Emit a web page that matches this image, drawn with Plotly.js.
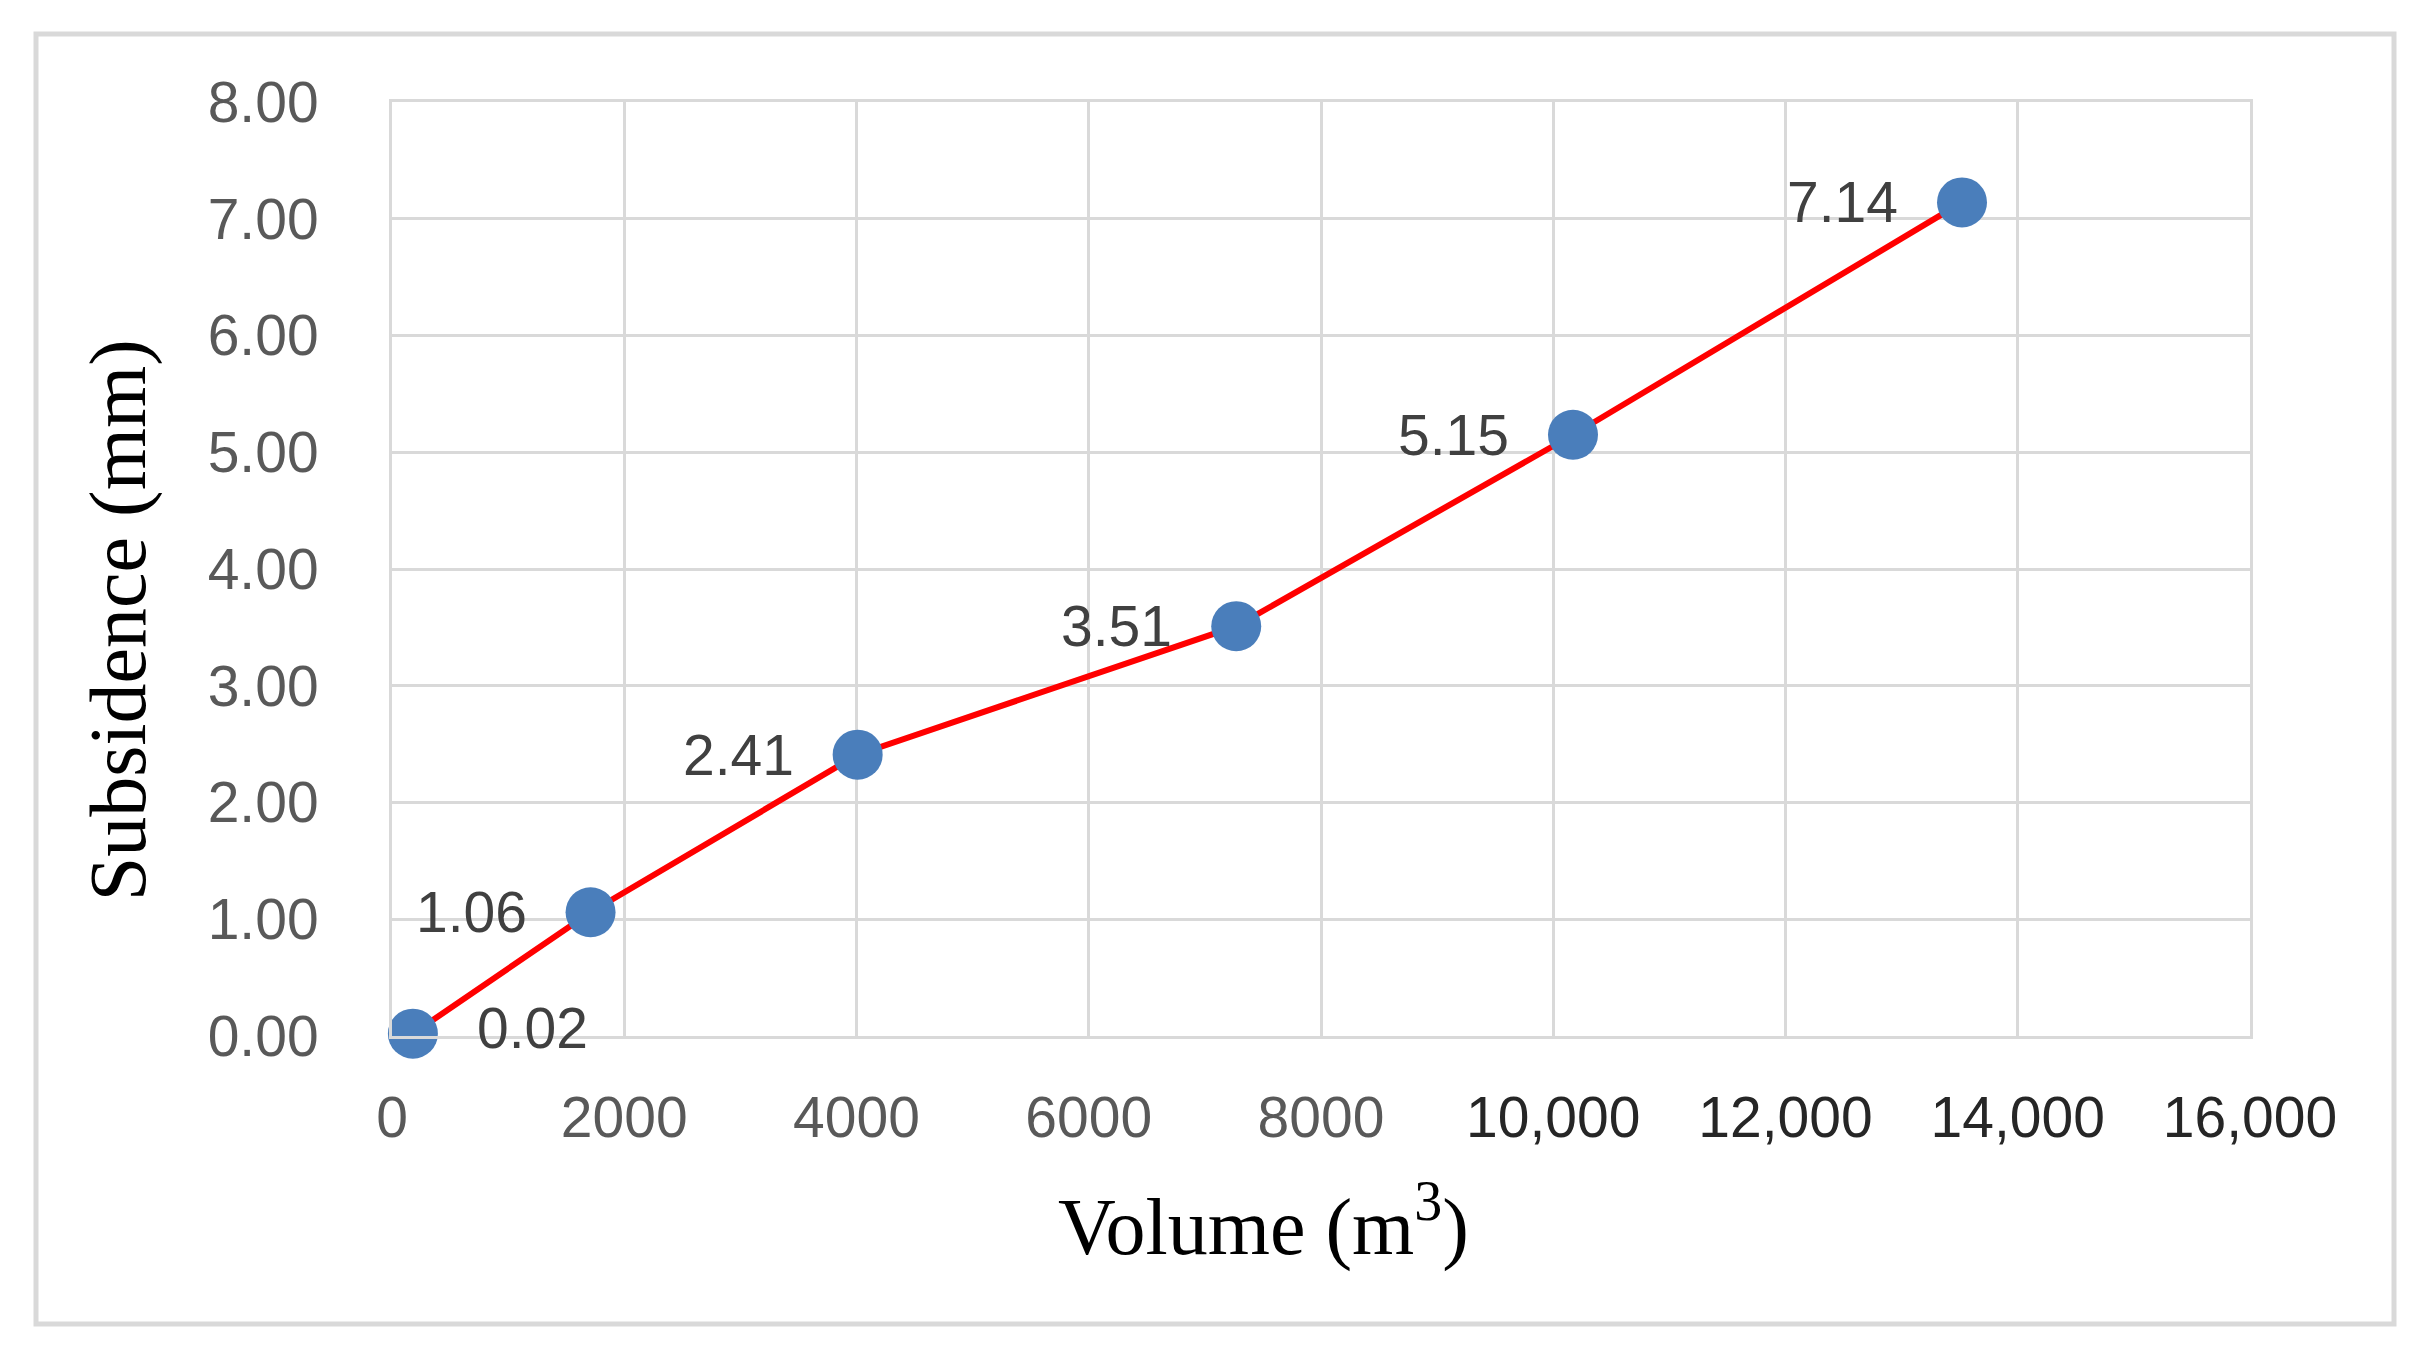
<!DOCTYPE html>
<html>
<head>
<meta charset="utf-8">
<script src="https://cdn.plot.ly/plotly-3.0.1.min.js"></script>
<style>
  body { margin: 0; background: #ffffff; }
  #chart { width: 2427px; height: 1366px; }
</style>
</head>
<body>
<div id="chart"></div>
<script>
// values
var volume = [180, 1710, 4010, 7270, 10170, 13520];
var subsidence = [0.02, 1.06, 2.41, 3.51, 5.15, 7.14];
var pointLabels = ['0.02', '1.06', '2.41', '3.51', '5.15', '7.14'];

var xTickVals = [0, 2000, 4000, 6000, 8000, 10000, 12000, 14000, 16000];
var xTickText = ['0', '2000', '4000', '6000', '8000', '10,000', '12,000', '14,000', '16,000'];

CHART_DIV = document.getElementById('chart');

var labelFont = { family: 'Liberation Sans, Arial, sans-serif', size: 57, color: '#404040' };
var titleFont = { family: 'Liberation Serif, Times New Roman, serif', size: 80, color: '#000000' };

var annotations = volume.map(function (x, i) {
    var right = (i === 0);
    return {
        x: x,
        y: subsidence[i],
        xref: 'x',
        yref: 'y',
        text: pointLabels[i],
        showarrow: false,
        xanchor: right ? 'left' : 'right',
        yanchor: 'middle',
        xshift: right ? 62 : -62,
        yshift: right ? 6 : 0,
        font: labelFont
    };
});

// axis titles as annotations, the reference has them off-centre
annotations.push({
    xref: 'paper', yref: 'paper',
    x: 0.469, y: -0.198,
    xanchor: 'center', yanchor: 'middle',
    text: 'Volume (m<sup>3</sup>)',
    showarrow: false,
    font: titleFont
});
annotations.push({
    xref: 'paper', yref: 'paper',
    x: -0.1475, y: 0.445,
    xanchor: 'center', yanchor: 'middle',
    textangle: -90,
    text: 'Subsidence (mm)',
    showarrow: false,
    font: titleFont
});

var layout = {
    width: 2427,
    height: 1366,
    margin: { l: 392, r: 177, t: 102, b: 330 },
    paper_bgcolor: '#ffffff',
    plot_bgcolor: '#ffffff',
    showlegend: false,
    xaxis: {
        range: [0, 16000],
        tickmode: 'array',
        tickvals: xTickVals,
        ticktext: xTickText.map(function (t, i) {
            return xTickVals[i] >= 10000 ? '<span style="color:#262626">' + t + '</span>' : t;
        }),
        ticks: '',
        ticklabelstandoff: 30,
        tickfont: { family: 'Liberation Sans, Arial, sans-serif', size: 57, color: '#595959' },
        showgrid: true,
        gridcolor: '#d9d9d9',
        gridwidth: 3,
        zeroline: false,
        showline: true,
        mirror: true,
        linecolor: '#d9d9d9',
        linewidth: 3
    },
    yaxis: {
        range: [0, 8],
        dtick: 1,
        tickformat: '.2f',
        ticks: '',
        ticklabelstandoff: 59,
        tickfont: { family: 'Liberation Sans, Arial, sans-serif', size: 57, color: '#595959' },
        showgrid: true,
        gridcolor: '#d9d9d9',
        gridwidth: 3,
        zeroline: true,
        zerolinecolor: '#c4c4c4',
        zerolinewidth: 4,
        showline: true,
        mirror: true,
        linecolor: '#d9d9d9',
        linewidth: 3
    },
    annotations: annotations,
    shapes: [{
        type: 'rect',
        xref: 'paper', yref: 'paper',
        x0: -0.1916, x1: 1.0775,
        y0: -0.3084, y1: 1.0728,
        line: { color: '#d9d9d9', width: 5 },
        fillcolor: 'rgba(0,0,0,0)',
        layer: 'below'
    }]
};

Plotly.newPlot(CHART_DIV, [{
    x: volume,
    y: subsidence,
    mode: 'lines+markers',
    line: {
        color: '#FF0000',
        width: 6,
        shape: 'linear'
    },
    marker: {
        color: '#4a7ebb',
        size: 50
    },
    cliponaxis: false
}], layout, {staticPlot: true});
</script>
</body>
</html>
